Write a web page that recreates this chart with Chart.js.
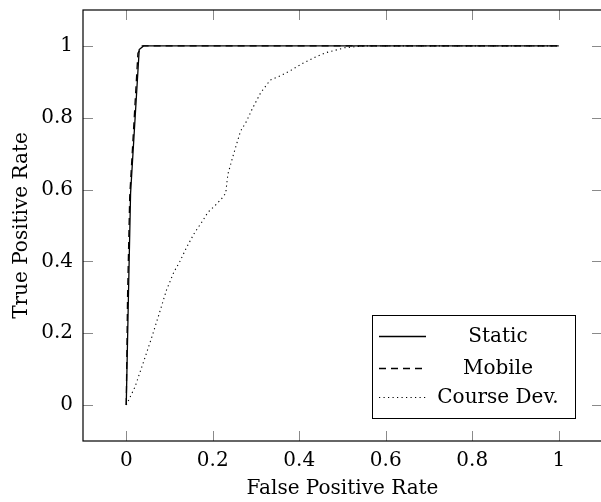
<!DOCTYPE html>
<html>
<head>
<meta charset="utf-8">
<script src="https://cdn.jsdelivr.net/npm/chart.js@4.4.1/dist/chart.umd.min.js"></script>
<style>
  html, body { margin: 0; padding: 0; background: #fff; overflow: hidden; }
  #wrap { width: 601px; height: 502px; overflow: hidden; }
</style>
</head>
<body>
<div id="wrap"><canvas id="roc" width="605" height="502"></canvas></div>
<script>
// ROC curve points
const staticFpr = [0, 0.005, 0.010, 0.030, 0.040, 1];
const staticTpr = [0, 0.30, 0.59, 0.99, 1.0, 1.0];

const mobileFpr = [0, 0.003, 0.008, 0.027, 0.037, 1];
const mobileTpr = [0, 0.30, 0.58, 0.98, 1.0, 1.0];

const courseFpr = [0, 0.02, 0.04, 0.058, 0.075, 0.093, 0.11, 0.124, 0.14, 0.158, 0.175, 0.189,
  0.205, 0.22, 0.23, 0.235, 0.247, 0.264, 0.278, 0.291, 0.311, 0.333, 0.357, 0.382, 0.407,
  0.434, 0.461, 0.49, 0.505, 0.55, 1];
const courseTpr = [0, 0.05, 0.12, 0.185, 0.25, 0.32, 0.37, 0.40, 0.44, 0.48, 0.51, 0.537,
  0.555, 0.574, 0.59, 0.643, 0.694, 0.762, 0.79, 0.824, 0.87, 0.905, 0.917, 0.933, 0.951,
  0.967, 0.981, 0.99, 0.995, 1.0, 1.0];

const seriesNames = ['Static', 'Mobile', 'Course Dev.'];
const xTicks = [0, 0.2, 0.4, 0.6, 0.8, 1];
const yTicks = [0, 0.2, 0.4, 0.6, 0.8, 1];

const FONT = "'DejaVu Serif', 'Liberation Serif', serif";
const FONT_SIZE = 20;

function toPoints(xs, ys) {
    return xs.map((x, i) => ({ x: x, y: ys[i] }));
}

// pgfplots style: ticks pointing inwards on all four sides
const innerTicks = {
    id: 'innerTicks',
    afterDatasetsDraw(chart) {
        const { ctx, chartArea: a, scales } = chart;
        const len = 10;
        ctx.save();
        ctx.strokeStyle = '#8a8a8a';
        ctx.lineWidth = 1;
        ctx.beginPath();
        xTicks.forEach(v => {
            const px = Math.round(scales.x.getPixelForValue(v)) + 0.5;
            ctx.moveTo(px, a.bottom); ctx.lineTo(px, a.bottom - len);
            ctx.moveTo(px, a.top); ctx.lineTo(px, a.top + len);
        });
        yTicks.forEach(v => {
            const py = Math.round(scales.y.getPixelForValue(v)) + 0.5;
            ctx.moveTo(a.left, py); ctx.lineTo(a.left + len, py);
            ctx.moveTo(a.right, py); ctx.lineTo(a.right - len, py);
        });
        ctx.stroke();
        // frame
        ctx.strokeStyle = '#000';
        ctx.lineWidth = 1.2;
        ctx.strokeRect(a.left, a.top, a.right - a.left, a.bottom - a.top);
        ctx.restore();
    }
};

// legend box in the lower right corner of the plot
const boxLegend = {
    id: 'boxLegend',
    afterDraw(chart) {
        const { ctx, chartArea: a } = chart;
        const w = 203, h = 103;
        const x0 = a.right - 230, y0 = a.bottom - 126;
        ctx.save();
        ctx.fillStyle = '#fff';
        ctx.fillRect(x0, y0, w, h);
        ctx.strokeStyle = '#000';
        ctx.lineWidth = 1;
        ctx.strokeRect(x0 + 0.5, y0 + 0.5, w, h);
        const rows = [21, 53, 82];
        ctx.font = FONT_SIZE + 'px ' + FONT;
        ctx.textAlign = 'center';
        ctx.textBaseline = 'middle';
        chart.data.datasets.forEach((ds, i) => {
            const y = y0 + rows[i] + 0.5;
            ctx.strokeStyle = ds.borderColor;
            ctx.lineWidth = ds.borderWidth;
            ctx.setLineDash(ds.borderDash || []);
            ctx.beginPath();
            ctx.moveTo(x0 + 7, y);
            ctx.lineTo(x0 + 54, y);
            ctx.stroke();
            ctx.setLineDash([]);
            ctx.fillStyle = '#000';
            ctx.fillText(ds.label, x0 + 126, y);
        });
        ctx.restore();
    }
};

new Chart(document.getElementById('roc'), {
    type: 'scatter',
    data: {
        datasets: [
            {
                label: seriesNames[0],
                data: toPoints(staticFpr, staticTpr),
                showLine: true,
                borderColor: '#000',
                borderWidth: 1.3,
                pointRadius: 0,
                tension: 0
            },
            {
                label: seriesNames[1],
                data: toPoints(mobileFpr, mobileTpr),
                showLine: true,
                borderColor: '#000',
                borderWidth: 1.3,
                borderDash: [7, 5],
                pointRadius: 0,
                tension: 0
            },
            {
                label: seriesNames[2],
                data: toPoints(courseFpr, courseTpr),
                showLine: true,
                borderColor: '#000',
                borderWidth: 1.1,
                borderDash: [1.2, 3.3],
                pointRadius: 0,
                tension: 0
            }
        ]
    },
    options: {
        responsive: false,
        animation: false,
        layout: { padding: { top: 10, right: 3, left: 0, bottom: 0 } },
        plugins: {
            legend: { display: false },
            tooltip: { enabled: false }
        },
        scales: {
            x: {
                type: 'linear',
                min: -0.1,
                max: 1.1,
                afterBuildTicks: axis => { axis.ticks = xTicks.map(v => ({ value: v })); },
                afterFit: axis => {
                    axis.height = 61;
                    axis.paddingLeft = 0;
                    axis.paddingRight = 0;
                },
                grid: { display: false, drawTicks: false },
                border: { display: false },
                ticks: {
                    color: '#000',
                    font: { family: FONT, size: FONT_SIZE },
                    padding: 8,
                    maxRotation: 0,
                    callback: v => String(v)
                },
                title: {
                    display: true,
                    text: 'False Positive Rate',
                    color: '#000',
                    font: { family: FONT, size: FONT_SIZE },
                    padding: { top: 0, bottom: 1 }
                }
            },
            y: {
                type: 'linear',
                min: -0.1,
                max: 1.1,
                afterBuildTicks: axis => { axis.ticks = yTicks.map(v => ({ value: v })); },
                afterFit: axis => {
                    axis.width = 83;
                    axis.paddingTop = 0;
                    axis.paddingBottom = 0;
                },
                grid: { display: false, drawTicks: false },
                border: { display: false },
                ticks: {
                    color: '#000',
                    font: { family: FONT, size: FONT_SIZE },
                    padding: 10,
                    callback: v => String(v)
                },
                title: {
                    display: true,
                    text: 'True Positive Rate',
                    color: '#000',
                    font: { family: FONT, size: FONT_SIZE },
                    padding: { top: 10, bottom: 0 }
                }
            }
        }
    },
    plugins: [innerTicks, boxLegend]
});
</script>
</body>
</html>
